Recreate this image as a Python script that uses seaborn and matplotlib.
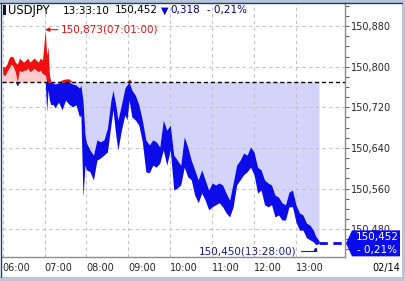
import numpy as np
import pandas as pd
import matplotlib
matplotlib.use("Agg")
import matplotlib.pyplot as plt
import seaborn as sns
from matplotlib.patches import Polygon, Rectangle
from matplotlib.lines import Line2D
from matplotlib.ticker import FixedLocator, MultipleLocator, FuncFormatter
from matplotlib.transforms import IdentityTransform

# ---------------- data ----------------
times = ["06:00", "06:03", "06:06", "06:09", "06:12", "06:15", "06:18", "06:21", "06:24", "06:27",
         "06:30", "06:33", "06:36", "06:39", "06:42", "06:45", "06:48", "06:51", "06:54", "06:57",
         "07:01", "07:03", "07:05", "07:07", "07:09",
         "07:12", "07:15", "07:20", "07:25", "07:30", "07:35", "07:40", "07:45", "07:50", "07:52", "07:55", "07:58",
         "08:00", "08:05", "08:10", "08:15", "08:20", "08:25", "08:30",
         "08:35", "08:38", "08:42", "08:45", "08:50", "08:55", "08:58",
         "09:01", "09:05", "09:10", "09:15", "09:20", "09:25", "09:30", "09:35", "09:40", "09:45", "09:50", "09:55",
         "10:00", "10:05", "10:10", "10:15", "10:20", "10:25", "10:30", "10:35", "10:40", "10:45", "10:50", "10:55",
         "11:00", "11:05", "11:10", "11:15", "11:20", "11:25", "11:30", "11:35", "11:40", "11:45", "11:50", "11:55",
         "12:00", "12:05", "12:10", "12:15", "12:20", "12:25", "12:30", "12:35", "12:40", "12:45", "12:50", "12:55",
         "13:00", "13:05", "13:10", "13:15", "13:20", "13:25", "13:28", "13:30", "13:33"]

highs = [150.801, 150.799, 150.805, 150.817, 150.821, 150.819, 150.809, 150.805, 150.817, 150.813,
         150.809, 150.813, 150.817, 150.809, 150.813, 150.817, 150.813, 150.809, 150.817, 150.813,
         150.873, 150.823, 150.839, 150.784, 150.770,
         150.768, 150.766, 150.768, 150.774, 150.776, 150.776, 150.766, 150.764, 150.758, 150.764, 150.734, 150.665,
         150.650, 150.636, 150.626, 150.656, 150.652, 150.656, 150.679,
         150.734, 150.754, 150.725, 150.695, 150.725, 150.758, 150.764,
         150.776, 150.754, 150.744, 150.725, 150.695, 150.656, 150.646, 150.656, 150.652, 150.642, 150.695, 150.675,
         150.685, 150.626, 150.616, 150.606, 150.662, 150.642, 150.616, 150.597, 150.577, 150.597, 150.577, 150.557,
         150.571, 150.567, 150.571, 150.567, 150.551, 150.537, 150.571, 150.606, 150.616, 150.630, 150.626, 150.642,
         150.632, 150.602, 150.597, 150.577, 150.571, 150.567, 150.547, 150.543, 150.532, 150.528, 150.553, 150.557,
         150.528, 150.512, 150.508, 150.492, 150.488, 150.478, 150.467, 150.463, 150.457]

lows = [150.786, 150.782, 150.790, 150.797, 150.805, 150.801, 150.790, 150.762, 150.793, 150.790,
        150.793, 150.793, 150.797, 150.790, 150.793, 150.797, 150.793, 150.790, 150.793, 150.786,
        150.784, 150.711, 150.754, 150.734, 150.725,
        150.726, 150.719, 150.730, 150.715, 150.734, 150.726, 150.721, 150.725, 150.701, 150.705, 150.543, 150.606,
        150.597, 150.593, 150.577, 150.616, 150.620, 150.626, 150.632,
        150.685, 150.715, 150.665, 150.636, 150.675, 150.705, 150.695,
        150.734, 150.701, 150.695, 150.685, 150.652, 150.593, 150.591, 150.606, 150.602, 150.610, 150.636, 150.606,
        150.636, 150.557, 150.561, 150.567, 150.602, 150.583, 150.577, 150.547, 150.532, 150.551, 150.537, 150.518,
        150.524, 150.528, 150.532, 150.524, 150.512, 150.504, 150.524, 150.567, 150.577, 150.587, 150.593, 150.602,
        150.587, 150.551, 150.557, 150.528, 150.524, 150.528, 150.504, 150.508, 150.498, 150.498, 150.524, 150.524,
        150.494, 150.478, 150.478, 150.463, 150.459, 150.455, 150.450, 150.450, 150.452]

symbol = "USDJPY"
last_time = "13:33:10"
prev_close = 150.770
last_price = 150.452
change = 0.318
change_pct = -0.21
day_high, day_high_time = 150.873, "07:01:00"
day_low, day_low_time = 150.450, "13:28:00"
hour_ticks = ["06:00", "07:00", "08:00", "09:00", "10:00", "11:00", "12:00", "13:00"]
y_ticks = [150.480, 150.560, 150.640, 150.720, 150.800, 150.880]
date_label = "02/14"


def to_h(s):
    parts = [int(p) for p in s.split(":")]
    h = parts[0] + parts[1] / 60.0
    if len(parts) > 2:
        h += parts[2] / 3600.0
    return h


def fmt(v):
    return f"{v:.3f}".replace(".", ",")


th = np.array([to_h(t) for t in times])
hi = np.array(highs)
lo = np.array(lows)
base = prev_close

RED = "#f01010"
BLUE = "#0c0ce8"
PINK = "#ffcccc"
LAV = "#d4d4fb"
NAVY = "#1a1a9c"

sns.set_style("white")
plt.rcParams["font.family"] = ["DejaVu Sans"]

W, H = 406, 281
fig = plt.figure(figsize=(W / 100, H / 100), dpi=100, facecolor="#b9c5d9")


def px(x, y):
    return (x / W, 1 - y / H)


# white panel
fig.add_artist(Rectangle((0, 4 / H), 402 / W, (277 - 3) / H, transform=fig.transFigure,
                         facecolor="white", edgecolor="none", zorder=0))
fig.add_artist(Line2D([0, 402 / W], [1 - 3 / H, 1 - 3 / H], transform=fig.transFigure,
                      color="#203a80", lw=1.0))
fig.add_artist(Line2D([0.5 / W, 0.5 / W], [4 / H, 1 - 3 / H], transform=fig.transFigure,
                      color="#203a80", lw=1.0))

ax = fig.add_axes([2 / W, 1 - 257 / H, 343 / W, 254 / H])
ax.set_facecolor("white")

xmin, xmax = 5.984, 14.17
ax.set_xlim(xmin, xmax)
ax.set_ylim(150.4251, 150.9255)

# fills between price and previous close
ax.fill_between(th, np.minimum(hi, base), base, color=LAV, lw=0, zorder=1)
ax.fill_between(th, base, np.maximum(lo, base), color=PINK, lw=0, zorder=1)

# price range bands drawn by seaborn (min-max interval of high/low at each time)
long = pd.DataFrame({"t": np.concatenate([th, th]), "v": np.concatenate([hi, lo])})
long["below"] = np.minimum(long["v"], base)
long["above"] = np.maximum(long["v"], base)
sns.lineplot(data=long, x="t", y="below", estimator="mean", errorbar=("pi", 100),
             color=BLUE, lw=0, legend=False, ax=ax,
             err_kws={"alpha": 1, "linewidth": 0, "zorder": 3})
sns.lineplot(data=long, x="t", y="above", estimator="mean", errorbar=("pi", 100),
             color=RED, lw=0, legend=False, ax=ax,
             err_kws={"alpha": 1, "linewidth": 0, "zorder": 3})
ax.set_xlabel("")
ax.set_ylabel("")

# previous close line
ax.axhline(base, color="black", lw=1.0, ls=(0, (3, 2)), zorder=4)
# last price dashed extension
ax.hlines(last_price, th[-1], xmax, colors=BLUE, lw=2.0, linestyles=(0, (3, 2)), zorder=4)

# grid / ticks
ax.set_axisbelow("line")
ax.xaxis.set_major_locator(FixedLocator([to_h(t) for t in hour_ticks]))
ax.set_xticklabels(hour_ticks)
ax.yaxis.tick_right()
ax.yaxis.set_major_locator(FixedLocator(y_ticks))
ax.yaxis.set_minor_locator(MultipleLocator(0.02))
ax.yaxis.set_major_formatter(FuncFormatter(lambda v, p: fmt(v)))
ax.grid(True, which="major", color="#c4c4c4", lw=0.8, ls=(0, (3, 3)))
ax.tick_params(axis="y", which="both", direction="out", length=3, width=0.8,
               color="#606060", labelsize=7, pad=1, right=True, left=False)
ax.tick_params(axis="x", direction="out", length=3, width=0.8, color="#606060",
               labelsize=7, pad=1.5)
for lbl in ax.get_xticklabels():
    lbl.set_ha("left")
for side in ["left", "top"]:
    ax.spines[side].set_visible(False)
for side in ["right", "bottom"]:
    ax.spines[side].set_color("#8c8c8c")
    ax.spines[side].set_linewidth(1.0)

# annotations
ax.annotate(f"{fmt(day_high)}({day_high_time})", xy=(to_h(day_high_time), day_high),
            xytext=(16, 0), textcoords="offset pixels", ha="left", va="center",
            color="#d81818", fontsize=7.5, zorder=6,
            arrowprops=dict(arrowstyle="-|>", color="#d81818", lw=0.8, mutation_scale=6,
                            shrinkA=0, shrinkB=0))
ax.annotate(f"{fmt(day_low)}({day_low_time})", xy=(to_h(day_low_time), day_low),
            xytext=(-19, -7), textcoords="offset pixels", ha="right", va="center",
            color=NAVY, fontsize=7.5, zorder=6,
            arrowprops=dict(arrowstyle="-|>", color=NAVY, lw=0.8, mutation_scale=5,
                            shrinkA=1, shrinkB=2,
                            connectionstyle="angle,angleA=0,angleB=90,rad=0"))

# header
fig.add_artist(Rectangle(px(3, 15), 2.5 / W, 10 / H, transform=fig.transFigure,
                         facecolor="#101030", edgecolor="none"))
hy = 10.5
fig.text(*px(8, hy), symbol, fontsize=8.3, va="center", ha="left", color="black")
fig.text(*px(63, hy), last_time, fontsize=7.5, va="center", ha="left", color="black")
fig.text(*px(115, hy), fmt(last_price), fontsize=7.5, va="center", ha="left", color="black")
fig.text(*px(161, hy), "▼", fontsize=7, va="center", ha="left", color="#0000d0")
fig.text(*px(170, hy), fmt(change), fontsize=7.5, va="center", ha="left", color="#000090")
fig.text(*px(207, hy), f"- {abs(change_pct):.2f}%".replace(".", ","), fontsize=7.5,
         va="center", ha="left", color="#000090")

# date label
fig.text(*px(386, 268), date_label, fontsize=7, va="center", ha="center", color="black")

# right price tag
fig.canvas.draw()
tx, ty = ax.transData.transform((xmax, last_price))
pts = [(tx + 1, ty), (tx + 7, ty + 13), (tx + 55, ty + 13), (tx + 55, ty - 13), (tx + 7, ty - 13)]
fig.add_artist(Polygon(pts, closed=True, transform=IdentityTransform(), facecolor="#0a0aef",
                       edgecolor="none", zorder=10))
fig.text((tx + 32) / W, (ty + 6.5) / H, fmt(last_price), fontsize=7.5, color="white",
         ha="center", va="center", zorder=11)
fig.text((tx + 32) / W, (ty - 6.5) / H, f"- {abs(change_pct):.2f}%".replace(".", ","),
         fontsize=7.5, color="white", ha="center", va="center", zorder=11)

fig.savefig("out.png", dpi=100, facecolor=fig.get_facecolor())
